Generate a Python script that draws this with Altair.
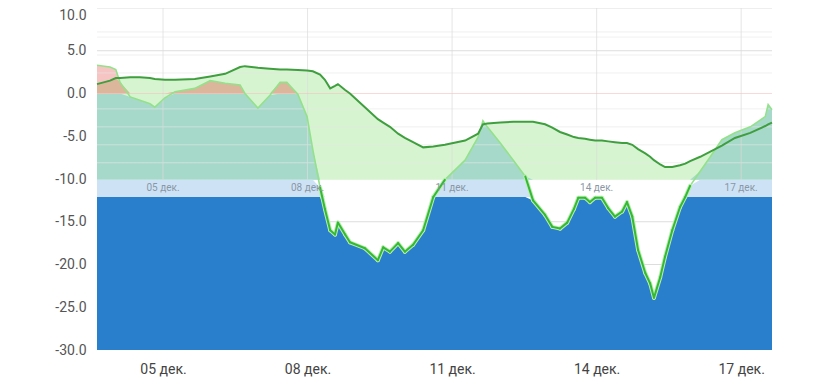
import altair as alt
import pandas as pd

# ---- data ----
days = [3.63, 3.90, 4.02, 4.11, 4.32, 4.52, 4.73, 4.83, 5.04, 5.25, 5.66, 5.98, 6.29, 6.60, 6.70,
        6.97, 7.22, 7.43, 7.57, 7.80, 7.99, 8.11, 8.26, 8.36, 8.47, 8.57, 8.63, 8.78, 8.88, 9.19,
        9.46, 9.57, 9.71, 9.88, 10.02, 10.19, 10.40, 10.61, 10.85, 11.27, 11.54, 11.64, 11.73,
        12.00, 12.27, 12.52, 12.68, 12.93, 13.08, 13.24, 13.39, 13.53, 13.62, 13.76, 13.86, 13.97,
        14.11, 14.24, 14.38, 14.53, 14.63, 14.74, 14.86, 15.01, 15.11, 15.19, 15.32, 15.42, 15.57,
        15.73, 15.84, 15.94, 16.15, 16.36, 16.60, 16.87, 17.19, 17.50, 17.56, 17.64]
temp_a = [1.1, 1.5, 1.8, 1.8, 1.9, 1.9, 1.8, 1.7, 1.6, 1.6, 1.7, 2.0, 2.3, 3.1, 3.2,
          3.0, 2.9, 2.8, 2.8, 2.75, 2.7, 2.6, 2.2, 1.6, 0.6, 0.9, 1.1, 0.4, 0.0, -1.6,
          -3.0, -3.4, -3.9, -4.7, -5.2, -5.7, -6.3, -6.2, -6.0, -5.5, -4.7, -3.6, -3.5,
          -3.4, -3.3, -3.3, -3.3, -3.6, -4.0, -4.5, -4.8, -5.1, -5.2, -5.3, -5.4, -5.5,
          -5.5, -5.6, -5.7, -5.8, -5.8, -6.0, -6.5, -7.0, -7.4, -7.8, -8.3, -8.6, -8.6,
          -8.4, -8.2, -7.9, -7.4, -6.8, -6.1, -5.2, -4.6, -3.8, -3.6, -3.4]
temp_b = [3.3, 3.1, 2.8, 1.3, -0.4, -0.8, -1.2, -1.6, -0.5, 0.2, 0.6, 1.5, 1.2, 1.0, 0.0,
          -1.7, -0.2, 1.3, 1.3, -0.1, -2.7, -6.6, -11.0, -13.5, -16.0, -16.5, -15.1, -16.5, -17.4, -18.1,
          -19.5, -18.0, -18.5, -17.5, -18.5, -17.7, -16.0, -12.1, -10.1, -7.8, -5.1, -3.2, -3.9,
          -5.8, -7.8, -9.7, -12.5, -14.2, -15.6, -15.8, -15.1, -13.5, -12.2, -12.2, -12.7, -12.2,
          -12.2, -13.4, -14.4, -13.8, -12.7, -14.4, -18.3, -21.0, -22.2, -23.9, -21.5, -19.1, -16.0,
          -13.3, -12.1, -10.8, -9.1, -7.4, -5.4, -4.6, -3.9, -2.7, -1.3, -1.9]

tick_days = [5, 8, 11, 14, 17]
tick_labels = ["05 дек.", "08 дек.", "11 дек.", "14 дек.", "17 дек."]
y_ticks = [10, 5, 0, -5, -10, -15, -20, -25, -30]
grid_major = [10, 5, -15, -20, -25]
grid_minor = [7.2, 6.6, 4.5, 2.4, -1.8, -3.9, -6.0, -8.1]
zero_line = [0]

BAND_TOP = -10.1
BAND_BOTTOM = -12.1
Y_MIN, Y_MAX = -30, 10
X_MIN, X_MAX = 3.63, 17.64

df = pd.DataFrame({"d": days, "a": temp_a, "b": temp_b})
ticks_df = pd.DataFrame({"d": tick_days, "label": tick_labels})
major_df = pd.DataFrame({"v": grid_major})
minor_df = pd.DataFrame({"mv": grid_minor})
zero_df = pd.DataFrame({"zv": zero_line})

label_expr = " : ".join(f"datum.value == {d} ? '{l}'" for d, l in zip(tick_days, tick_labels)) + " : ''"

xscale = alt.Scale(domain=[X_MIN, X_MAX], nice=False, zero=False)
yscale = alt.Scale(domain=[Y_MIN, Y_MAX], nice=False, zero=False)
xaxis = alt.Axis(values=tick_days, labelExpr=label_expr, grid=False, ticks=False, domain=False,
                 labelFontSize=14, labelColor="#444444", labelFont="Roboto", labelPadding=12,
                 title=None, labelAngle=0)
yaxis = alt.Axis(values=y_ticks,
                 labelExpr="(datum.value < 0 ? '-' : '') + format(abs(datum.value), '.1f')",
                 labelBaseline={"condition": {"test": f"datum.value == {Y_MAX}", "value": "top"},
                                "value": "middle"},
                 grid=False, ticks=False, domain=False, labelFontSize=14, labelColor="#555555",
                 labelFont="Roboto", labelPadding=11, title=None)

X = alt.X("d:Q", scale=xscale, axis=xaxis)

base = alt.Chart(df).transform_calculate(
    band_top=f"{BAND_TOP}",
    band_bot=f"{BAND_BOTTOM}",
    ymin=f"{Y_MIN}",
    zero="0",
    teal_top=f"min(max(datum.b, {BAND_TOP}), 0)",
    pink_top="max(datum.b, 0)",
    salmon_top="max(min(datum.a, datum.b), 0)",
    lb_top=f"min(max(datum.b, {BAND_BOTTOM}), {BAND_TOP})",
    blue_top=f"min(datum.b, {BAND_BOTTOM})",
)


def area(top, bottom, color, src=None):
    return (src or base).mark_area(color=color, opacity=1).encode(
        x=X, y=alt.Y(f"{top}:Q", scale=yscale, axis=yaxis), y2=alt.Y2(f"{bottom}:Q"))


pos_base = base.transform_filter("datum.d <= 8.0")

green = area("a", "band_top", "#d6f4d0")
teal = area("teal_top", "band_top", "#a7d9ca")
pink = area("pink_top", "zero", "#f6c5c3", pos_base)
salmon = area("salmon_top", "zero", "#dcb69b", pos_base)

minor = alt.Chart(minor_df).mark_rule(stroke="#e6e6e6", strokeWidth=1, opacity=0.6).encode(
    y=alt.Y("mv:Q", scale=yscale, axis=yaxis))
major = alt.Chart(major_df).mark_rule(stroke="#dddddd", strokeWidth=1).encode(
    y=alt.Y("v:Q", scale=yscale, axis=yaxis))
vgrid = alt.Chart(ticks_df).mark_rule(stroke="#dcdcdc", strokeWidth=1, opacity=0.7).encode(
    x=X, y=alt.datum(Y_MAX, scale=yscale), y2=alt.datum(BAND_TOP))
zero_rule = alt.Chart(zero_df).mark_rule(stroke="#f7c0c0", strokeWidth=1, opacity=0.6).encode(
    y=alt.Y("zv:Q", scale=yscale, axis=yaxis))

line_a = base.mark_line(color="#3f9f3f", strokeWidth=2).encode(
    x=X, y=alt.Y("a:Q", scale=yscale, axis=yaxis))
line_b = base.mark_line(color="#93e28a", strokeWidth=1.6).encode(
    x=X, y=alt.Y("b:Q", scale=yscale, axis=yaxis))

light_band = area("lb_top", "band_bot", "#cde3f5")
blue = area("blue_top", "ymin", "#2a7fcd")

segs = base.transform_window(
    d_next="lead(d)", b_next="lead(b)", sort=[alt.SortField("d")]
).transform_filter(
    f"datum.b_next != null && (datum.b <= {BAND_BOTTOM} || datum.b_next <= {BAND_BOTTOM})"
)
seg_glow = segs.mark_rule(stroke="#b9efb0", strokeWidth=4, strokeCap="round").encode(
    x=X, x2="d_next:Q", y=alt.Y("b:Q", scale=yscale, axis=yaxis), y2="b_next:Q")
seg_line = segs.mark_rule(stroke="#35b835", strokeWidth=2, strokeCap="round").encode(
    x=X, x2="d_next:Q", y=alt.Y("b:Q", scale=yscale, axis=yaxis), y2="b_next:Q")

band_text = alt.Chart(ticks_df).mark_text(fontSize=10, color="#8a97a5", font="Roboto").encode(
    x=X, y=alt.datum((BAND_TOP + BAND_BOTTOM) / 2, scale=yscale), text="label:N")

chart = alt.layer(
    green, teal, pink, salmon, minor, major, vgrid, zero_rule, line_b, line_a,
    light_band, blue, seg_glow, seg_line, band_text
).properties(
    width=675, height=342,
    padding={"left": 89, "top": 0, "right": 12, "bottom": 30},
    autosize=alt.AutoSizeParams(type="none"),
    background="white",
).configure_view(stroke=None)

chart.save("out.html", embed_options={"renderer": "svg", "actions": False})
